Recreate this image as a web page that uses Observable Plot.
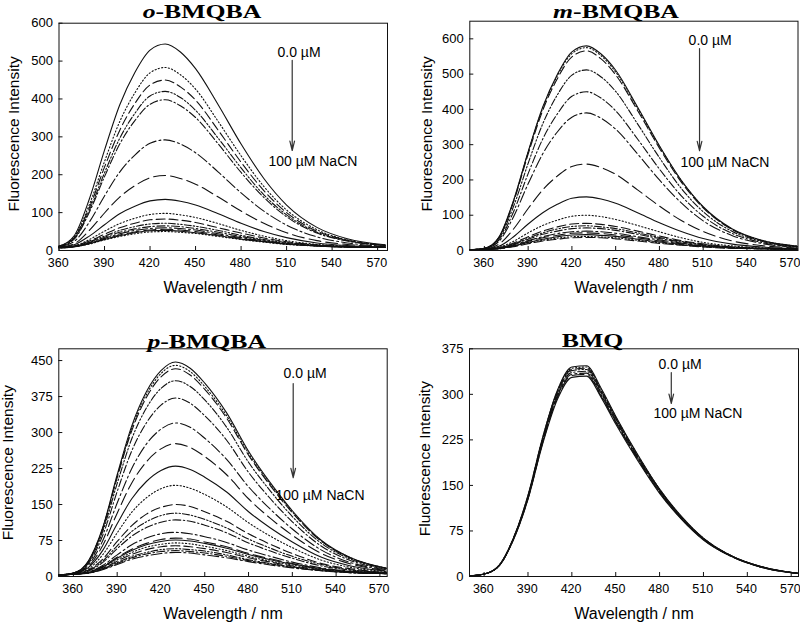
<!DOCTYPE html>
<html><head><meta charset="utf-8">
<script src="https://cdn.jsdelivr.net/npm/d3@7"></script>
<script src="https://cdn.jsdelivr.net/npm/@observablehq/plot@0.6"></script>
<style>
body{margin:0;background:#fff;}
#chart{position:relative;width:800px;height:622px;overflow:hidden;background:#fff;}
#chart svg.panel{position:absolute;}
#titles{position:absolute;left:0;top:0;pointer-events:none;}
</style></head><body><div id="chart"></div>
<script>
// ---------- data ----------
const wavelengths = [350, 360, 370, 380, 390, 400, 410, 420, 430, 440, 450, 465, 480, 495, 510, 530, 550, 575];
const xTicks = [360, 390, 420, 450, 480, 510, 540, 570];
const oTicks = [0, 100, 200, 300, 400, 500, 600];
const mTicks = [0, 100, 200, 300, 400, 500, 600];
const pTicks = [0, 75, 150, 225, 300, 375, 450];
const bTicks = [0, 75, 150, 225, 300, 375];

const oBMQBA = [
  [7, 12, 39, 136, 265, 384, 470, 529, 545, 524, 480, 384, 281, 190, 120, 61, 31, 15],
  [7, 12, 36, 121, 235, 340, 416, 469, 483, 464, 426, 340, 250, 169, 107, 55, 28, 14],
  [7, 11, 34, 113, 220, 317, 388, 437, 450, 432, 397, 317, 233, 158, 100, 51, 27, 14],
  [7, 11, 32, 106, 205, 296, 362, 408, 420, 404, 370, 296, 218, 147, 94, 48, 26, 13],
  [7, 11, 30, 101, 195, 281, 343, 386, 398, 382, 351, 281, 206, 140, 89, 46, 25, 13],
  [7, 10, 24, 75, 144, 207, 252, 283, 292, 281, 258, 207, 152, 104, 67, 36, 20, 11],
  [7, 9, 18, 53, 99, 141, 171, 192, 198, 190, 175, 141, 104, 72, 47, 26, 16, 10],
  [7, 8, 15, 38, 68, 97, 117, 131, 135, 130, 120, 97, 72, 50, 34, 20, 13, 9],
  [7, 8, 12, 29, 51, 71, 85, 95, 98, 94, 87, 71, 53, 38, 26, 16, 11, 8],
  [7, 8, 12, 25, 43, 60, 72, 81, 83, 80, 74, 60, 46, 33, 23, 15, 10, 8],
  [7, 8, 11, 23, 38, 53, 63, 70, 72, 69, 64, 53, 40, 29, 21, 14, 10, 8],
  [7, 8, 10, 21, 35, 48, 57, 63, 65, 63, 58, 48, 37, 27, 19, 13, 10, 8],
  [7, 8, 10, 20, 32, 44, 53, 58, 60, 58, 54, 44, 34, 25, 18, 12, 9, 8],
  [7, 7, 10, 19, 30, 41, 49, 54, 56, 54, 50, 41, 32, 24, 17, 12, 9, 8],
  [7, 7, 10, 18, 29, 39, 47, 52, 53, 51, 47, 39, 30, 23, 17, 12, 9, 8],
  [7, 7, 10, 17, 28, 37, 44, 49, 50, 48, 45, 37, 29, 22, 16, 12, 9, 8]
];

const mBMQBA = [
  [2, 6, 38, 142, 280, 407, 499, 563, 580, 557, 511, 407, 297, 199, 124, 61, 29, 12],
  [2, 6, 37, 140, 278, 403, 495, 558, 575, 552, 506, 403, 295, 198, 123, 60, 29, 12],
  [2, 6, 37, 138, 273, 397, 487, 549, 566, 543, 498, 397, 290, 194, 121, 59, 28, 11],
  [2, 6, 34, 125, 247, 359, 441, 497, 512, 492, 451, 359, 263, 176, 110, 54, 26, 11],
  [2, 6, 30, 110, 218, 316, 387, 437, 450, 432, 396, 316, 231, 155, 97, 48, 23, 10],
  [2, 5, 26, 96, 189, 274, 336, 378, 390, 375, 344, 274, 200, 135, 84, 42, 20, 9],
  [2, 4, 18, 61, 119, 172, 211, 238, 245, 235, 216, 172, 126, 85, 54, 27, 14, 7],
  [2, 4, 12, 39, 75, 107, 131, 148, 152, 146, 134, 107, 79, 54, 34, 18, 10, 5],
  [2, 3, 9, 26, 50, 71, 86, 97, 100, 96, 88, 71, 53, 36, 23, 13, 7, 5],
  [2, 3, 7, 21, 39, 55, 67, 75, 77, 74, 68, 55, 41, 28, 19, 10, 6, 4],
  [2, 3, 7, 19, 35, 50, 61, 68, 70, 67, 62, 50, 37, 26, 17, 10, 6, 4],
  [2, 3, 7, 18, 32, 46, 55, 62, 64, 62, 57, 46, 34, 24, 16, 9, 6, 4],
  [2, 3, 6, 16, 28, 39, 48, 53, 55, 53, 49, 39, 30, 21, 14, 8, 5, 4],
  [2, 3, 6, 14, 26, 36, 43, 49, 50, 48, 44, 36, 27, 19, 13, 8, 5, 4],
  [2, 3, 6, 13, 23, 32, 39, 44, 45, 43, 40, 32, 24, 17, 12, 7, 5, 4],
  [2, 3, 5, 12, 21, 29, 35, 39, 40, 38, 36, 29, 22, 16, 11, 7, 5, 4],
  [2, 3, 5, 11, 19, 27, 32, 36, 37, 36, 33, 27, 20, 15, 10, 6, 5, 4]
];

const pBMQBA = [
  [3, 7, 31, 101, 212, 314, 385, 429, 447, 434, 403, 341, 261, 195, 137, 75, 39, 17],
  [3, 7, 30, 100, 209, 309, 379, 423, 440, 427, 396, 335, 257, 192, 135, 74, 39, 17],
  [3, 7, 30, 98, 206, 304, 373, 416, 433, 420, 390, 330, 253, 189, 133, 73, 38, 17],
  [3, 7, 28, 93, 194, 287, 351, 392, 408, 396, 368, 311, 238, 178, 125, 69, 36, 16],
  [3, 7, 26, 85, 177, 262, 320, 357, 372, 361, 335, 284, 217, 162, 114, 63, 33, 15],
  [3, 6, 23, 74, 153, 225, 276, 307, 320, 311, 288, 244, 187, 140, 99, 55, 29, 14],
  [3, 6, 20, 64, 132, 195, 239, 266, 277, 269, 250, 212, 162, 121, 86, 48, 26, 12],
  [3, 6, 18, 54, 110, 162, 198, 221, 230, 223, 207, 176, 135, 101, 72, 40, 22, 11],
  [3, 5, 15, 45, 91, 134, 164, 183, 190, 184, 171, 145, 112, 84, 60, 34, 19, 10],
  [3, 5, 13, 36, 73, 106, 130, 144, 150, 146, 135, 115, 89, 67, 48, 27, 16, 8],
  [3, 5, 12, 32, 64, 94, 114, 127, 132, 128, 119, 101, 78, 59, 42, 25, 14, 8],
  [3, 5, 11, 29, 58, 84, 102, 113, 118, 115, 107, 91, 70, 53, 38, 22, 13, 7],
  [3, 5, 9, 23, 45, 66, 80, 89, 92, 89, 83, 71, 55, 42, 30, 18, 11, 7],
  [3, 5, 9, 21, 40, 57, 69, 77, 80, 78, 72, 62, 48, 37, 27, 16, 10, 6],
  [3, 5, 8, 20, 38, 54, 66, 73, 76, 74, 69, 59, 46, 35, 26, 16, 10, 6],
  [3, 5, 8, 19, 35, 50, 61, 67, 70, 68, 63, 54, 42, 32, 24, 15, 9, 6],
  [3, 5, 8, 17, 32, 46, 56, 62, 64, 62, 58, 50, 39, 30, 22, 14, 9, 6],
  [3, 5, 7, 16, 29, 42, 50, 56, 58, 56, 53, 45, 35, 27, 20, 13, 8, 6],
  [3, 5, 7, 15, 27, 39, 47, 52, 54, 52, 49, 42, 33, 26, 19, 12, 8, 6],
  [3, 5, 7, 14, 25, 36, 43, 48, 50, 49, 45, 39, 31, 24, 18, 12, 8, 6]
];

const BMQ = [
  [1, 4, 18, 63, 134, 229, 306, 345, 347, 310, 264, 201, 144, 99, 63, 33, 16, 5],
  [1, 4, 18, 63, 133, 228, 305, 343, 345, 308, 263, 200, 144, 98, 63, 33, 16, 5],
  [1, 4, 17, 63, 132, 226, 303, 341, 343, 306, 261, 198, 143, 97, 63, 33, 16, 5],
  [1, 4, 17, 62, 131, 225, 301, 339, 341, 304, 260, 197, 142, 97, 62, 33, 16, 5],
  [1, 4, 17, 62, 130, 223, 298, 336, 338, 302, 257, 196, 141, 96, 62, 33, 15, 5],
  [1, 4, 17, 61, 129, 221, 296, 333, 335, 299, 255, 194, 139, 95, 61, 32, 15, 5],
  [1, 4, 17, 61, 128, 220, 294, 331, 333, 297, 254, 193, 139, 95, 61, 32, 15, 5],
  [1, 4, 17, 60, 127, 218, 291, 328, 330, 295, 251, 191, 137, 94, 60, 32, 15, 5]
];

// annotation values (data units), one entry per panel: o, m, p, BMQ
const noteStartLabel = "0.0 \u00b5M";
const noteEndLabel = "100 \u00b5M NaCN";
const noteTopX = [504, 500, 504, 479.3];
const noteTopY = [523, 595, 423, 349];
const noteBottomX = [498, 494.4, 498.5, 475.8];
const noteBottomY = [235, 249, 169, 268];
const arrowX = [513.7, 507.5, 510.6, 488];
const arrowFrom = [502, 572.5, 402, 336];
const arrowTo = [264, 283, 206, 285];

// ---------- layout & style ----------
const lineStyles = [undefined, "1.2,2.2", "9,4", "7,2,1.5,2,1.5,2", "8,2.5,1.5,2.5", "11,3,2,3", "12,5"];
const SANS = "'Liberation Sans', Arial, Helvetica, sans-serif";

const panels = [
  {data: oBMQBA, xDomain: [360, 576.5], yDomain: [0, 600], yTicks: oTicks,
   left: 0, top: 0, mL: 58.5, mR: 13, mT: 22.7, mB: 61, yLabelDx: -44.5, yLabelDy: -3},
  {data: mBMQBA, xDomain: [350, 575], yDomain: [0, 650], yTicks: mTicks,
   left: 400, top: 0, mL: 69.3, mR: 2.5, mT: 20.7, mB: 61, yLabelDx: -42.6, yLabelDy: -2},
  {data: pBMQBA, xDomain: [350, 575], yDomain: [0, 474.5], yTicks: pTicks,
   left: 0, top: 311, mL: 58.3, mR: 13.3, mT: 37.3, mB: 46, yLabelDx: -50.5, yLabelDy: 0},
  {data: BMQ, xDomain: [350, 575], yDomain: [0, 375], yTicks: bTicks,
   left: 400, top: 311, mL: 69, mR: 2, mT: 37.3, mB: 46, yLabelDx: -44, yLabelDy: -4}
];

const chart = document.getElementById("chart");

panels.forEach((p, k) => {
  const W = 400, H = 311;
  const frameW = W - p.mL - p.mR, frameH = H - p.mT - p.mB;
  const marks = [];
  p.data.forEach((vals, i) => {
    const rows = wavelengths.map((w, j) => ({w, v: vals[j]}));
    marks.push(Plot.line(rows, {
      x: "w", y: "v", curve: "monotone-x", stroke: "#111", strokeWidth: 1.1,
      strokeDasharray: lineStyles[i % lineStyles.length], clip: true
    }));
  });
  marks.push(Plot.frame({stroke: "#111", strokeWidth: 1}));
  marks.push(Plot.tickX(xTicks, {x: d => d, insetTop: frameH - 4, stroke: "#111"}));
  marks.push(Plot.tickY(p.yTicks, {y: d => d, insetRight: frameW - 4, stroke: "#111"}));
  marks.push(Plot.axisX(xTicks, {tickSize: 0, tickPadding: 8, label: null, fontSize: 12.5, dx: -0.8}));
  marks.push(Plot.axisY(p.yTicks, {tickSize: 0, tickPadding: 6, label: null, fontSize: 13}));
  marks.push(Plot.text(["Wavelength / nm"], {
    text: d => d, frameAnchor: "bottom", dy: 37, fontSize: 16, textAnchor: "middle", lineAnchor: "middle"
  }));
  marks.push(Plot.text(["Fluorescence Intensity"], {
    text: d => d, frameAnchor: "left", dx: p.yLabelDx, dy: p.yLabelDy, rotate: -90, fontSize: 15.5,
    textAnchor: "middle", lineAnchor: "middle"
  }));
  // annotation
  marks.push(Plot.arrow([0], {
    x1: () => arrowX[k], x2: () => arrowX[k], y1: () => arrowFrom[k], y2: () => arrowTo[k],
    stroke: "#333", strokeWidth: 1.2, headAngle: 28, headLength: 12
  }));
  marks.push(Plot.text([noteStartLabel], {
    x: () => noteTopX[k], y: () => noteTopY[k], text: d => d,
    textAnchor: "start", lineAnchor: "middle", fontSize: 14, fill: "#000"
  }));
  marks.push(Plot.text([noteEndLabel], {
    x: () => noteBottomX[k], y: () => noteBottomY[k], text: d => d,
    textAnchor: "start", lineAnchor: "middle", fontSize: 14, fill: "#000"
  }));

  const svg = Plot.plot({
    width: W, height: H,
    marginLeft: p.mL, marginRight: p.mR, marginTop: p.mT, marginBottom: p.mB,
    x: {domain: p.xDomain, label: null},
    y: {domain: p.yDomain, label: null},
    style: {fontFamily: SANS, fontSize: "13px", color: "#000", background: "transparent", overflow: "visible"},
    marks
  });
  svg.classList.add("panel");
  svg.style.left = p.left + "px";
  svg.style.top = p.top + "px";
  chart.appendChild(svg);
});

// ---------- titles ----------
const titleItalic = ["o", "m", "p", ""];
const titleMain = ["-BMQBA", "-BMQBA", "-BMQBA", "BMQ"];
const titleCx = [202, 616, 206.7, 592.5];
const titleBase = [17.5, 17.5, 347.5, 346.5];
const NS = "http://www.w3.org/2000/svg";
const tsvg = document.createElementNS(NS, "svg");
tsvg.setAttribute("id", "titles");
tsvg.setAttribute("width", 800);
tsvg.setAttribute("height", 622);
titleMain.forEach((t, i) => {
  const text = document.createElementNS(NS, "text");
  text.setAttribute("transform", `translate(${titleCx[i]},${titleBase[i]}) scale(1.3,1)`);
  text.setAttribute("text-anchor", "middle");
  text.setAttribute("font-family", "'Liberation Serif', 'Times New Roman', serif");
  text.setAttribute("font-weight", "bold");
  text.setAttribute("font-size", 19.8);
  if (titleItalic[i]) {
    const it = document.createElementNS(NS, "tspan");
    it.setAttribute("font-style", "italic");
    it.textContent = titleItalic[i];
    text.appendChild(it);
  }
  const rest = document.createElementNS(NS, "tspan");
  rest.textContent = t;
  text.appendChild(rest);
  tsvg.appendChild(text);
});
chart.appendChild(tsvg);
</script></body></html>
